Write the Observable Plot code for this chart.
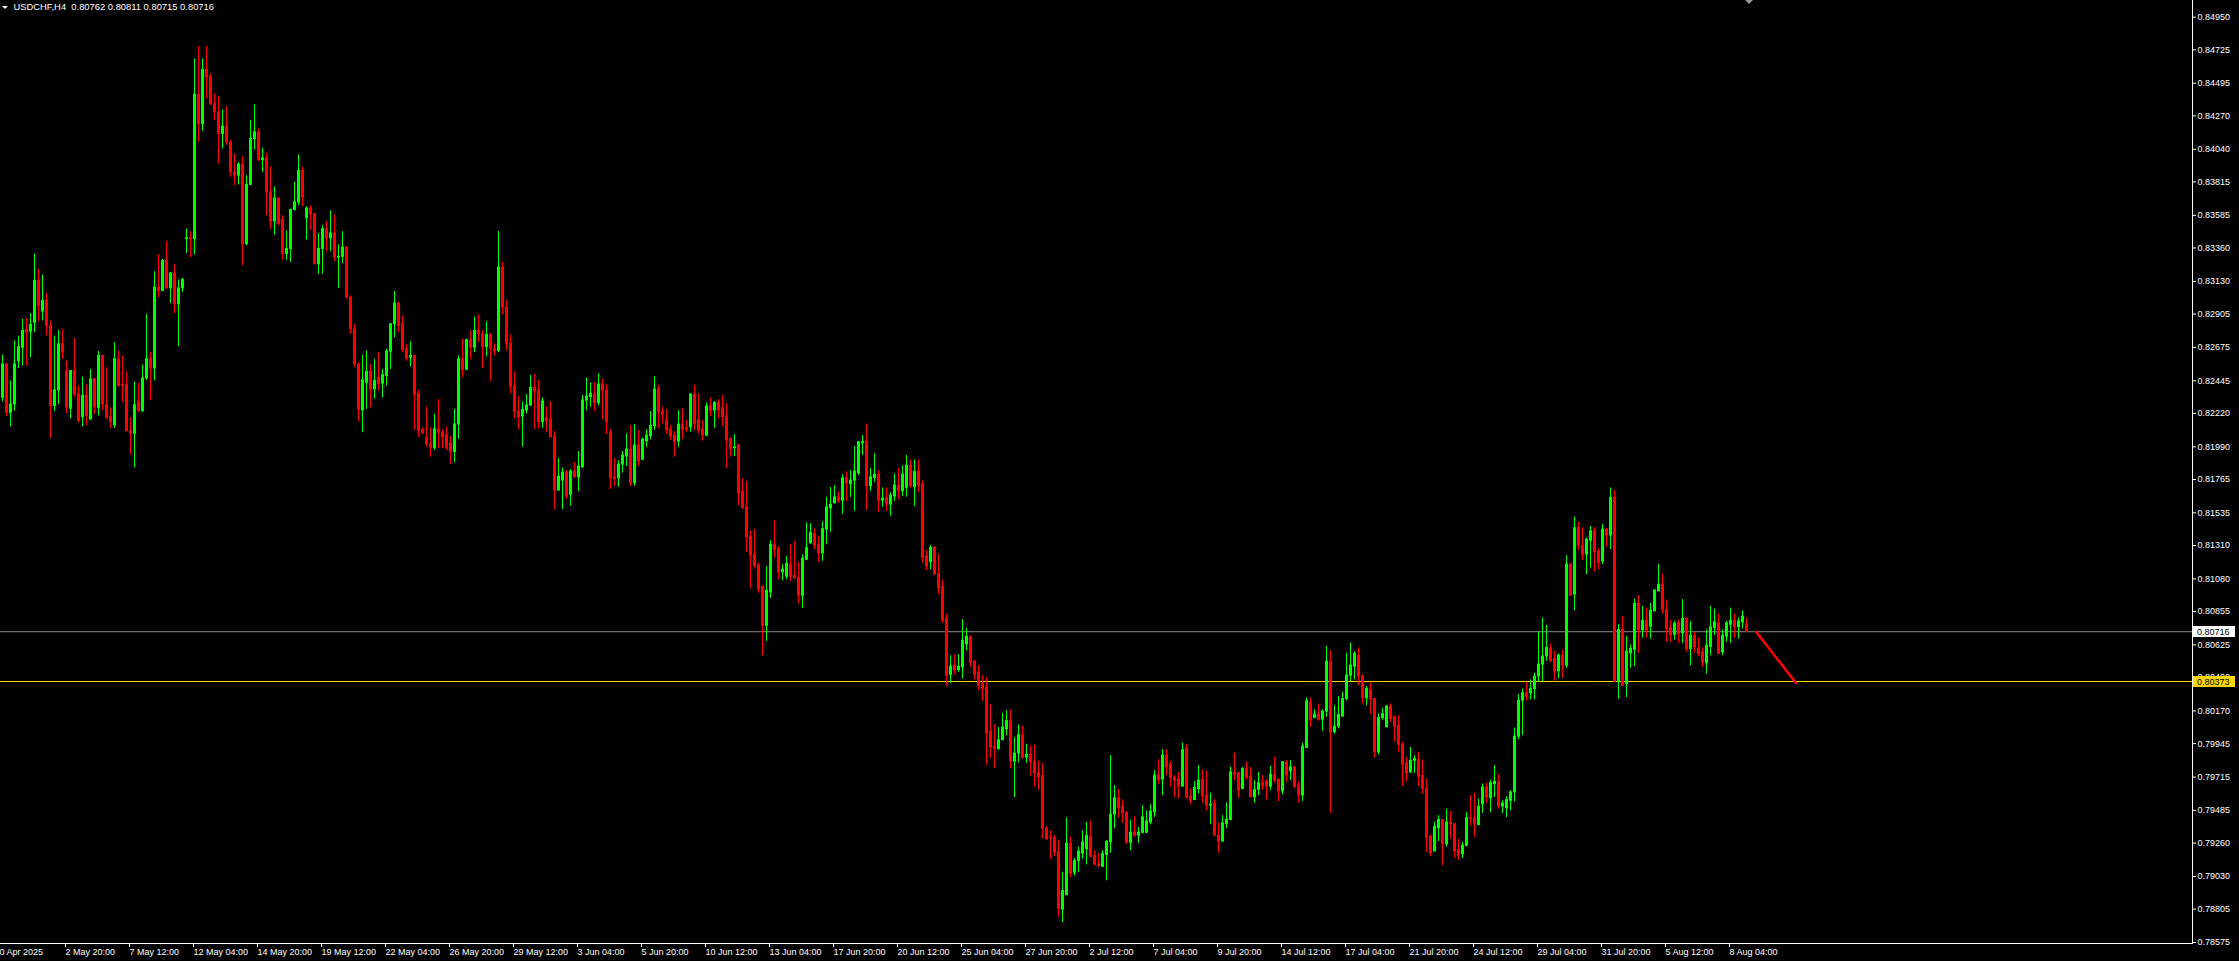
<!DOCTYPE html>
<html>
<head>
<meta charset="utf-8">
<script src="https://cdn.jsdelivr.net/npm/d3@7"></script>
<script src="https://cdn.jsdelivr.net/npm/@observablehq/plot@0.6"></script>
<style>
  html, body { margin: 0; padding: 0; background: #000; }
  #chart svg { display: block; }
</style>
</head>
<body>
<div id="chart"></div>
<script>
// ---- Data: USDCHF H4 candles (bar index 0 .. 436) ----
const open = [
.82328,.82558,.82225,.82282,.82581,.82673,.82795,.82783,.82845,.83133,
.82922,.82999,.82823,.82271,.82379,.82696,.82512,.82252,.82512,.82351,
.82195,.82340,.82179,.82455,.82259,.82616,.82277,.82195,.82139,.82593,
.82415,.82415,.82098,.82080,.82300,.82236,.82461,.82599,.82530,.83087,
.83064,.83271,.83082,.83184,.82972,.83082,.83421,.83427,.83421,.84416,
.84214,.84587,.84536,.84352,.84295,.84145,.84196,.84088,.83881,.83858,
.83934,.83386,.83795,.84111,.84157,.83966,.83977,.83743,.83542,.83701,
.83552,.83318,.83353,.83621,.83674,.83892,.83565,.83632,.83593,.83248,
.83353,.83490,.83427,.83460,.83294,.83299,.83363,.83018,.82800,.82558,
.82241,.82432,.82507,.82386,.82466,.82425,.82478,.82646,.82834,.82977,
.82834,.82662,.82604,.82616,.82356,.82104,.82052,.82006,.81983,.82110,
.82089,.82071,.82011,.81955,.82144,.82593,.82521,.82724,.82673,.82788,
.82765,.82678,.82761,.82665,.82650,.83225,.82950,.82700,.82406,.82233,
.82199,.82240,.82275,.82396,.82378,.82160,.82187,.82178,.82061,.81688,
.81757,.81812,.81660,.81819,.81780,.81849,.82309,.82332,.82350,.82291,
.82419,.82378,.82088,.81780,.81773,.81867,.81923,.81971,.81739,.81999,
.81902,.82028,.82063,.82132,.82385,.82233,.82171,.82109,.82068,.82026,
.82143,.82118,.82125,.82350,.82176,.82109,.82068,.82268,.82240,.82291,
.82256,.82199,.82045,.81982,.81999,.81681,.81573,.81373,.81246,.81170,
.81025,.80757,.80987,.81315,.81286,.81125,.81095,.81177,.81102,.81088,
.80964,.81212,.81325,.81391,.81315,.81256,.81419,.81566,.81601,.81642,
.81619,.81773,.81734,.81757,.81808,.82015,.82026,.81718,.81775,.81798,
.81620,.81636,.81592,.81648,.81724,.81684,.81707,.81860,.81712,.81820,
.81730,.81234,.81195,.81293,.81114,.81022,.80804,.80419,.80482,.80452,
.80470,.80628,.80677,.80511,.80436,.80355,.80332,.80028,.79923,.79907,
.79969,.80044,.80102,.79821,.79877,.80003,.79849,.79867,.79821,.79742,
.79722,.79361,.79297,.79297,.79198,.78802,.78901,.79256,.79056,.79136,
.79187,.79217,.79302,.79171,.79113,.79096,.79179,.79265,.79456,.79568,
.79511,.79469,.79262,.79331,.79311,.79331,.79331,.79402,.79472,.79725,
.79697,.79863,.79800,.79713,.79697,.79649,.79913,.79580,.79557,.79632,
.79695,.79587,.79518,.79534,.79311,.79271,.79391,.79419,.79741,.79741,
.79633,.79770,.79718,.79575,.79626,.79672,.79683,.79649,.79731,.79697,
.79616,.79817,.79754,.79782,.79656,.79587,.79915,.80227,.80122,.80145,
.80110,.80165,.80510,.80023,.80062,.80131,.80252,.80414,.80476,.80551,
.80407,.80259,.80317,.80252,.79885,.80121,.80057,.80200,.80126,.80069,
.79937,.79809,.79747,.79827,.79832,.79724,.79632,.79302,.79202,.79362,
.79419,.79252,.79402,.79390,.79211,.79183,.79241,.79431,.79431,.79385,
.79528,.79643,.79570,.79666,.79682,.79512,.79500,.79551,.79609,.79993,
.80241,.80292,.80292,.80321,.80407,.80489,.80545,.80598,.80528,.80443,
.80551,.80482,.81179,.80971,.81431,.81310,.81247,.81344,.81408,.81268,
.81201,.81420,.81379,.81638,.80371,.80728,.80355,.80567,.80592,.80907,
.80728,.80792,.80751,.80856,.80995,.81040,.80866,.80741,.80695,.80774,
.80705,.80804,.80597,.80689,.80597,.80574,.80498,.80613,.80741,.80774,
.80574,.80682,.80764,.80792,.80746,.80780,.80762
];
const high = [
.82622,.82565,.82443,.82719,.82753,.82868,.82875,.82908,.83317,.83213,
.83174,.83048,.82858,.82753,.82792,.82800,.82581,.82512,.82737,.82409,
.82471,.82415,.82523,.82460,.82646,.82620,.82535,.82259,.82708,.82650,
.82616,.82505,.82190,.82436,.82425,.82553,.82903,.82639,.83197,.83312,
.83282,.83404,.83191,.83244,.83138,.83151,.83490,.83471,.84663,.84748,
.84663,.84748,.84559,.84421,.84403,.84311,.84334,.84099,.84007,.83950,
.83989,.83858,.84237,.84347,.84180,.84048,.84012,.83920,.83782,.83705,
.83582,.83478,.83628,.83812,.84002,.83915,.83644,.83650,.83598,.83460,
.83513,.83542,.83616,.83588,.83381,.83473,.83368,.83030,.82834,.82569,
.82622,.82650,.82558,.82593,.82639,.82523,.82662,.82839,.83060,.82984,
.82892,.82696,.82714,.82620,.82379,.82121,.82264,.82121,.82213,.82317,
.82110,.82126,.82063,.82248,.82616,.82731,.82731,.82793,.82885,.82898,
.82793,.82852,.82770,.82701,.83473,.83260,.83000,.82760,.82505,.82337,
.82298,.82350,.82482,.82488,.82447,.82327,.82263,.82302,.82095,.81911,
.81844,.81826,.81833,.81881,.81957,.82344,.82465,.82429,.82431,.82493,
.82454,.82419,.82109,.81909,.81895,.81957,.82079,.82137,.82143,.82102,
.82051,.82107,.82233,.82475,.82413,.82263,.82245,.82137,.82095,.82240,
.82252,.82171,.82355,.82413,.82355,.82171,.82293,.82327,.82302,.82314,
.82344,.82286,.82051,.82074,.82005,.81769,.81750,.81412,.81419,.81189,
.81033,.81164,.81343,.81481,.81302,.81177,.81233,.81315,.81336,.81194,
.81246,.81467,.81460,.81423,.81375,.81474,.81642,.81709,.81722,.81681,
.81799,.81819,.81826,.81992,.82026,.82068,.82148,.81842,.81941,.81826,
.81707,.81707,.81673,.81804,.81840,.81860,.81930,.81900,.81900,.81900,
.81753,.81275,.81310,.81303,.81252,.81073,.80837,.80550,.80557,.80557,
.80799,.80741,.80689,.80516,.80482,.80412,.80401,.80213,.80074,.80056,
.80153,.80171,.80176,.79987,.80074,.80068,.79941,.79930,.79936,.79826,
.79807,.79371,.79343,.79312,.79279,.79060,.79435,.79302,.79154,.79233,
.79343,.79401,.79412,.79205,.79187,.79207,.79276,.79863,.79656,.79628,
.79559,.79476,.79419,.79442,.79368,.79517,.79483,.79524,.79759,.79835,
.79904,.79904,.79821,.79725,.79747,.79948,.79938,.79632,.79683,.79794,
.79766,.79754,.79605,.79559,.79398,.79449,.79538,.79782,.79879,.79747,
.79782,.79817,.79782,.79690,.79747,.79725,.79697,.79789,.79851,.79697,
.79821,.79828,.79828,.79787,.79683,.79948,.80260,.80260,.80178,.80219,
.80177,.80614,.80586,.80207,.80269,.80298,.80568,.80637,.80579,.80604,
.80420,.80338,.80368,.80259,.80149,.80190,.80207,.80218,.80138,.80138,
.79954,.79850,.79919,.79862,.79885,.79832,.79701,.79316,.79402,.79448,
.79419,.79494,.79477,.79390,.79287,.79264,.79471,.79586,.79604,.79563,
.79666,.79673,.79694,.79793,.79730,.79551,.79579,.79620,.80052,.80282,
.80321,.80368,.80384,.80430,.80713,.80810,.80759,.80632,.80581,.80563,
.80590,.81240,.81183,.81505,.81470,.81431,.81362,.81441,.81431,.81287,
.81454,.81424,.81707,.81689,.80764,.80820,.80682,.80626,.80941,.80964,
.80889,.80879,.80912,.81004,.81179,.81114,.80935,.80792,.80787,.80797,
.80937,.80815,.80787,.80712,.80672,.80608,.80728,.80889,.80873,.80838,
.80728,.80787,.80879,.80838,.80811,.80861,.80811
];
const low = [
.82300,.82197,.82128,.82236,.82530,.82547,.82547,.82604,.82777,.82852,
.82857,.82753,.82047,.82232,.82282,.82593,.82218,.82183,.82328,.82156,
.82128,.82137,.82172,.82213,.82202,.82241,.82179,.82117,.82117,.82402,
.82294,.82093,.81933,.81845,.82225,.82225,.82448,.82310,.82443,.83018,
.83064,.83076,.82977,.82908,.82680,.83053,.83322,.83294,.83312,.84088,
.84163,.84387,.84341,.84237,.83938,.84042,.84065,.83846,.83789,.83795,
.83237,.83375,.83789,.84035,.83956,.83881,.83582,.83490,.83450,.83513,
.83276,.83276,.83260,.83616,.83651,.83644,.83414,.83478,.83244,.83179,
.83179,.83333,.83335,.83266,.83082,.83253,.83007,.82765,.82535,.82162,
.82087,.82248,.82259,.82317,.82374,.82328,.82409,.82523,.82742,.82777,
.82639,.82581,.82540,.82104,.82057,.82075,.81988,.81918,.81964,.81978,
.81978,.81964,.81868,.81880,.82041,.82466,.82517,.82593,.82639,.82708,
.82530,.82609,.82438,.82616,.82639,.82900,.82650,.82355,.82183,.82109,
.81987,.82217,.82268,.82109,.82114,.82118,.82090,.82051,.81557,.81688,
.81557,.81626,.81580,.81775,.81681,.81842,.82240,.82263,.82235,.82270,
.82178,.82074,.81695,.81716,.81711,.81808,.81854,.81716,.81718,.81854,
.81895,.81987,.82038,.82102,.82114,.82148,.82074,.82033,.81918,.81987,
.82040,.82090,.82090,.82102,.82079,.82029,.82061,.82199,.82118,.82183,
.82130,.81842,.81918,.81923,.81585,.81562,.81263,.81012,.81147,.80980,
.80550,.80649,.80945,.81223,.81074,.81067,.81074,.81062,.81079,.80908,
.80876,.81205,.81320,.81281,.81194,.81201,.81315,.81401,.81596,.81601,
.81525,.81614,.81642,.81545,.81792,.81930,.81550,.81683,.81745,.81538,
.81574,.81546,.81512,.81615,.81625,.81648,.81643,.81707,.81579,.81677,
.81188,.81137,.81144,.81109,.80971,.80774,.80337,.80360,.80419,.80436,
.80390,.80585,.80470,.80383,.80309,.80236,.79792,.79844,.79775,.79900,
.79969,.79999,.79773,.79573,.79815,.79844,.79808,.79722,.79642,.79624,
.79288,.79279,.79148,.79166,.78745,.78712,.78901,.79021,.79033,.79056,
.79148,.79109,.79159,.79102,.79090,.79096,.79000,.79189,.79357,.79432,
.79396,.79253,.79207,.79299,.79258,.79322,.79327,.79384,.79437,.79667,
.79587,.79725,.79644,.79575,.79564,.79649,.79559,.79524,.79557,.79598,
.79534,.79483,.79386,.79311,.79189,.79265,.79361,.79414,.79690,.79568,
.79626,.79695,.79575,.79534,.79587,.79621,.79557,.79621,.79672,.79545,
.79593,.79678,.79690,.79639,.79534,.79547,.79915,.80058,.80116,.80099,
.80029,.80126,.79464,.80011,.80046,.80131,.80241,.80372,.80384,.80345,
.80218,.80206,.80144,.79845,.79868,.80103,.80057,.80092,.79954,.79885,
.79650,.79682,.79740,.79740,.79650,.79597,.79195,.79165,.79202,.79270,
.79103,.79234,.79287,.79155,.79142,.79155,.79234,.79379,.79298,.79378,
.79464,.79533,.79471,.79574,.79494,.79464,.79436,.79482,.79544,.79970,
.80000,.80236,.80246,.80246,.80368,.80368,.80512,.80505,.80374,.80391,
.80394,.80465,.80960,.80861,.81275,.81206,.81109,.81155,.81126,.81144,
.81179,.81298,.81282,.80366,.80252,.80344,.80263,.80465,.80475,.80567,
.80672,.80672,.80665,.80856,.80994,.80838,.80643,.80643,.80659,.80636,
.80636,.80574,.80482,.80567,.80544,.80470,.80424,.80551,.80689,.80562,
.80551,.80643,.80636,.80672,.80665,.80735,.80715
];
const close = [
.82558,.82225,.82282,.82558,.82678,.82788,.82777,.82829,.83133,.82961,
.82995,.82823,.82271,.82379,.82696,.82639,.82259,.82512,.82351,.82167,
.82340,.82202,.82455,.82259,.82616,.82282,.82190,.82162,.82593,.82409,
.82409,.82098,.82080,.82277,.82236,.82461,.82593,.82530,.83087,.83064,
.83271,.83082,.83184,.82972,.83082,.83140,.83427,.83421,.84416,.84214,
.84587,.84536,.84352,.84295,.84145,.84196,.84088,.83881,.83858,.83934,
.83386,.83795,.84111,.84157,.83966,.83977,.83743,.83542,.83701,.83524,
.83318,.83353,.83621,.83674,.83892,.83708,.83632,.83593,.83248,.83353,
.83490,.83427,.83460,.83294,.83299,.83363,.83018,.82800,.82558,.82241,
.82448,.82507,.82386,.82443,.82420,.82484,.82646,.82834,.82977,.82823,
.82655,.82599,.82616,.82346,.82098,.82084,.82006,.81983,.82110,.82087,
.82057,.81983,.81955,.82144,.82593,.82517,.82724,.82673,.82788,.82765,
.82678,.82761,.82665,.82646,.83225,.82950,.82700,.82401,.82229,.82194,
.82245,.82275,.82396,.82371,.82160,.82302,.82164,.82056,.81688,.81785,
.81812,.81647,.81819,.81780,.81854,.82309,.82337,.82355,.82291,.82419,
.82373,.82160,.81773,.81766,.81867,.81930,.81971,.81739,.81999,.81888,
.82040,.82068,.82134,.82385,.82229,.82212,.82102,.82061,.82022,.82143,
.82109,.82109,.82350,.82148,.82102,.82068,.82268,.82240,.82291,.82240,
.82194,.82033,.81971,.81987,.81670,.81566,.81366,.81240,.81170,.81005,
.80757,.80998,.81315,.81281,.81125,.81143,.81184,.81095,.81083,.80964,
.81219,.81292,.81398,.81308,.81256,.81423,.81573,.81591,.81642,.81619,
.81773,.81739,.81757,.81819,.82022,.82022,.81718,.81780,.81798,.81619,
.81632,.81592,.81654,.81724,.81684,.81799,.81860,.81717,.81816,.81724,
.81224,.81165,.81293,.81109,.81015,.80792,.80412,.80475,.80452,.80475,
.80654,.80682,.80502,.80419,.80344,.80320,.80015,.79918,.79911,.79969,
.80056,.80102,.79821,.79877,.80003,.79844,.79867,.79815,.79739,.79713,
.79359,.79286,.79290,.79194,.78807,.78929,.79256,.79049,.79136,.79201,
.79263,.79309,.79164,.79113,.79102,.79184,.79269,.79456,.79568,.79501,
.79465,.79262,.79331,.79311,.79331,.79437,.79409,.79478,.79725,.79697,
.79863,.79782,.79708,.79690,.79649,.79900,.79575,.79552,.79640,.79690,
.79580,.79518,.79525,.79311,.79271,.79396,.79421,.79747,.79731,.79621,
.79770,.79708,.79575,.79626,.79672,.79656,.79649,.79731,.79690,.79616,
.79817,.79724,.79782,.79644,.79587,.79925,.80238,.80104,.80145,.80109,
.80165,.80510,.80023,.80062,.80142,.80252,.80414,.80483,.80563,.80407,
.80259,.80321,.80248,.79885,.80121,.80149,.80200,.80115,.80057,.79937,
.79799,.79740,.79827,.79839,.79717,.79632,.79298,.79188,.79372,.79419,
.79252,.79402,.79390,.79202,.79172,.79241,.79431,.79425,.79390,.79510,
.79643,.79574,.79673,.79682,.79512,.79533,.79556,.79609,.79993,.80241,
.80292,.80269,.80321,.80407,.80489,.80545,.80604,.80512,.80443,.80551,
.80482,.81179,.80965,.81429,.81310,.81247,.81351,.81408,.81264,.81188,
.81420,.81379,.81638,.80371,.80728,.80344,.80578,.80597,.80907,.80728,
.80792,.80728,.80861,.81000,.81040,.80866,.80735,.80689,.80769,.80700,
.80804,.80597,.80689,.80608,.80562,.80505,.80620,.80746,.80781,.80562,
.80689,.80774,.80792,.80746,.80787,.80820,.80716
];

// time axis labels and the bar index each one marks
const xLabels = ["30 Apr 2025","2 May 20:00","7 May 12:00","12 May 04:00","14 May 20:00","19 May 12:00",
  "22 May 04:00","26 May 20:00","29 May 12:00","3 Jun 04:00","5 Jun 20:00","10 Jun 12:00","13 Jun 04:00",
  "17 Jun 20:00","20 Jun 12:00","25 Jun 04:00","27 Jun 20:00","2 Jul 12:00","7 Jul 04:00","9 Jul 20:00",
  "14 Jul 12:00","17 Jul 04:00","21 Jul 20:00","24 Jul 12:00","29 Jul 04:00","31 Jul 20:00","5 Aug 12:00","8 Aug 04:00"];
const xLabelBars = [-2.75,15,31,47,63,79,95,111,127,143,159,175,191,207,223,239,255,271,287,303,319,335,351,367,383,399,415,431];

// price axis tick labels
const yTicks = [0.84950,0.84725,0.84495,0.84270,0.84040,0.83815,0.83585,0.83360,0.83130,0.82905,0.82675,
  0.82445,0.82220,0.81990,0.81765,0.81535,0.81310,0.81080,0.80855,0.80625,0.80400,0.80170,0.79945,0.79715,
  0.79485,0.79260,0.79030,0.78805,0.78575];

// horizontal levels
const bidLevel = 0.80716;
const supportLevel = 0.80373;
// drawn trend line (bar index, price)
const trendBars = [438.4, 448.4];
const trendPrices = [0.80716, 0.80362];
// chart-shift marker bar position
const shiftBar = 436.75;
const title = "USDCHF,H4  0.80762 0.80811 0.80715 0.80716";

// ---- Build ----
const GREEN = "#00ff00", RED = "#ff0000";
const FONT = "Liberation Sans, Arial, sans-serif";
const candles = open.map((o, i) => ({i, o, h: high[i], l: low[i], c: close[i]}));
const colorOf = d => d.c >= d.o ? GREEN : RED;
const labelMap = new Map(xLabelBars.map((b, k) => [b, xLabels[k]]));
const trend = trendBars.map((b, k) => ({b, p: trendPrices[k]}));
const tags = [{price: bidLevel, fill: "#ffffff"}, {price: supportLevel, fill: "#ffd700"}];

function overlay(index, scales, values, dimensions) {
  const {width, height, marginRight, marginBottom} = dimensions;
  const right = width - marginRight, bottom = height - marginBottom;
  const g = d3.create("svg:g");
  g.append("line").attr("x1", right + 0.5).attr("x2", right + 0.5).attr("y1", 0).attr("y2", bottom + 1)
    .attr("stroke", "#ffffff");
  g.append("line").attr("x1", 0).attr("x2", right + 1).attr("y1", bottom + 0.5).attr("y2", bottom + 0.5)
    .attr("stroke", "#ffffff");
  for (const t of tags) {
    const y = Math.round(scales.y(t.price));
    g.append("rect").attr("x", right + 1).attr("y", y - 5).attr("width", 42).attr("height", 11).attr("fill", t.fill);
    g.append("text").attr("x", right + 5).attr("y", y + 0.5).attr("dy", "0.35em").attr("fill", "#000")
      .attr("text-anchor", "start").attr("font-family", FONT).attr("font-size", 9).text(t.price.toFixed(5));
  }
  const sx = scales.x(shiftBar);
  g.append("path").attr("d", `M${sx - 4},0L${sx + 4},0L${sx},4Z`).attr("fill", "#9a9a9a");
  g.append("path").attr("d", "M2,6L8,6L5,9Z").attr("fill", "#ffffff");
  return g.node();
}

const chart = Plot.plot({
  width: 2239,
  height: 961,
  marginLeft: 0,
  marginRight: 47,
  marginTop: 0,
  marginBottom: 18,
  x: {type: "linear", domain: [-0.5, 547.5], axis: null},
  y: {domain: [0.78568, 0.85065], axis: null},
  color: {type: "identity"},
  style: {background: "#000", color: "#fff", fontFamily: FONT, fontSize: "9px"},
  marks: [
    Plot.ruleY([bidLevel], {stroke: "#8e8e8e", strokeWidth: 1}),
    Plot.ruleY([supportLevel], {stroke: "#ffd700", strokeWidth: 1}),
    Plot.ruleX(candles, {x: "i", y1: "l", y2: "h", stroke: colorOf, strokeWidth: 1}),
    Plot.ruleX(candles, {x: "i", y1: d => Math.max(d.o, d.c), y2: d => Math.min(d.o, d.c),
      stroke: colorOf, strokeWidth: 3, insetTop: -0.5, insetBottom: -0.5}),
    Plot.line(trend, {x: "b", y: "p", stroke: "#ff0000", strokeWidth: 2.5}),
    Plot.axisY({anchor: "right", ticks: yTicks, tickFormat: d => d.toFixed(5), tickSize: 3, tickPadding: 2,
      stroke: "#fff", fill: "#fff", fontSize: 9}),
    Plot.axisX({ticks: xLabelBars, tickFormat: d => labelMap.get(d), tickSize: 4, tickPadding: 1,
      textAnchor: "start", dx: 3, stroke: "#fff", fill: "#fff", fontSize: 9}),
    Plot.text([title], {frameAnchor: "top-left", dx: 13, dy: 3, lineAnchor: "top", textAnchor: "start",
      fill: "#fff", fontSize: 9.4}),
    overlay
  ]
});
document.getElementById("chart").appendChild(chart);
</script>
</body>
</html>
